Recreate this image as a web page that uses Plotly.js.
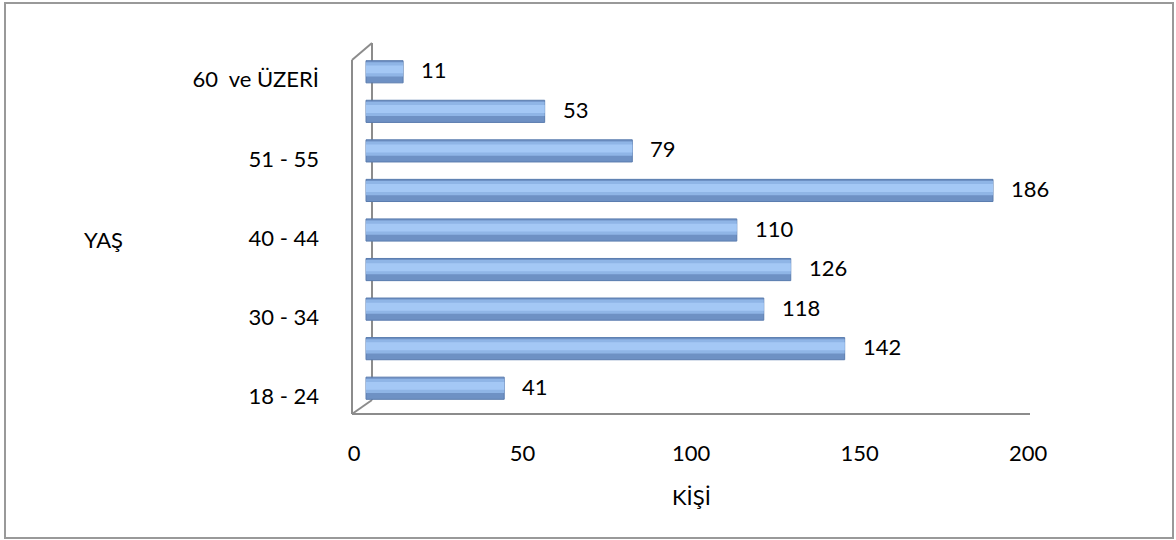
<!DOCTYPE html>
<html>
<head>
<meta charset="utf-8">
<script src="https://cdn.plot.ly/plotly-3.0.1.min.js"></script>
<style>body{margin:0;background:#fff}#chart{width:1176px;height:540px}</style>
</head>
<body>
<div id="chart"></div>
<script>
const categories = ["18 - 24","25 - 29","30 - 34","35 - 39","40 - 44","45 - 50","51 - 55","56 - 59","60\u00a0 ve ÜZERİ"];
const values = [41, 142, 118, 126, 110, 186, 79, 53, 11];
const shownTicks = ["18 - 24","30 - 34","40 - 44","51 - 55","60\u00a0 ve ÜZERİ"];
const xTicks = [0, 50, 100, 150, 200];

const FONT = "Lato, 'Open Sans', sans-serif";
const FS = 22;
const L = 352, R = 1042, T = 52, B = 408;
const px = v => (v - L) / (R - L);
const py = v => (B - v) / (B - T);
const wall = {color: "#8c8c8c", width: 2};

const traces = [
  {type: "bar", orientation: "h", x: values, y: categories,
   width: 0.56, offset: -0.28,
   marker: {color: "#6E91C4", line: {color: "#5A7CAE", width: 1}}, hoverinfo: "x+y"},
  {type: "bar", orientation: "h", x: values, y: categories,
   width: 0.36, offset: -0.12,
   marker: {color: "#8FB5E6", line: {width: 0}}, hoverinfo: "skip"},
  {type: "bar", orientation: "h", x: values, y: categories,
   width: 0.2, offset: -0.04,
   marker: {color: "#A4C8F5", line: {width: 0}}, hoverinfo: "skip"}
];

const annotations = values.map((v, i) => ({
  x: v, y: categories[i], xref: "x", yref: "y", text: String(v), showarrow: false,
  xanchor: "left", xshift: 16, yshift: 2, font: {family: FONT, size: FS, color: "#000"}
}));
annotations.push({x: px(82), y: py(239), xref: "paper", yref: "paper", text: "YAŞ",
  showarrow: false, font: {family: FONT, size: FS, color: "#000"}});
annotations.push({x: px(691), y: py(512), xref: "paper", yref: "paper", text: "KİŞİ",
  showarrow: false, font: {family: FONT, size: FS, color: "#000"}});

const layout = {
  width: 1176, height: 540,
  margin: {l: L, r: 1176 - R, t: T, b: 540 - B},
  paper_bgcolor: "#fff", plot_bgcolor: "rgba(0,0,0,0)",
  barmode: "overlay", showlegend: false,
  font: {family: FONT, size: FS, color: "#000"},
  xaxis: {range: [-14 / 3.371, (R - 366) / 3.371], tickvals: xTicks,
          showgrid: false, zeroline: false, showline: false, ticks: "",
          ticklabelstandoff: 30, ticklabelshift: -12,
          tickfont: {family: FONT, size: FS, color: "#000"}},
  yaxis: {type: "category", categoryorder: "array", categoryarray: categories,
          tickvals: shownTicks, ticktext: shownTicks, showgrid: false, zeroline: false,
          showline: false, ticks: "", ticklabelstandoff: 32, ticklabelshift: 8,
          tickfont: {family: FONT, size: FS, color: "#000"}},
  annotations: annotations,
  shapes: [
    {type: "rect", xref: "paper", yref: "paper", x0: px(5), x1: px(1173), y0: py(538), y1: py(3),
     line: {color: "#999", width: 2}, layer: "below"},
    {type: "line", xref: "paper", yref: "paper", x0: 0, x1: px(1030), y0: py(414), y1: py(414), line: wall, layer: "below"},
    {type: "line", xref: "paper", yref: "paper", x0: 0, x1: 0, y0: py(414), y1: py(60), line: wall, layer: "below"},
    {type: "line", xref: "paper", yref: "paper", x0: px(372), x1: px(372), y0: py(400), y1: py(43), line: wall, layer: "below"},
    {type: "line", xref: "paper", yref: "paper", x0: 0, x1: px(372), y0: py(414), y1: py(400), line: wall, layer: "below"},
    {type: "line", xref: "paper", yref: "paper", x0: 0, x1: px(372), y0: py(60), y1: py(43), line: wall, layer: "below"}
  ]
};

Plotly.newPlot("chart", traces, layout, {displayModeBar: false, responsive: false});
</script>
</body>
</html>
